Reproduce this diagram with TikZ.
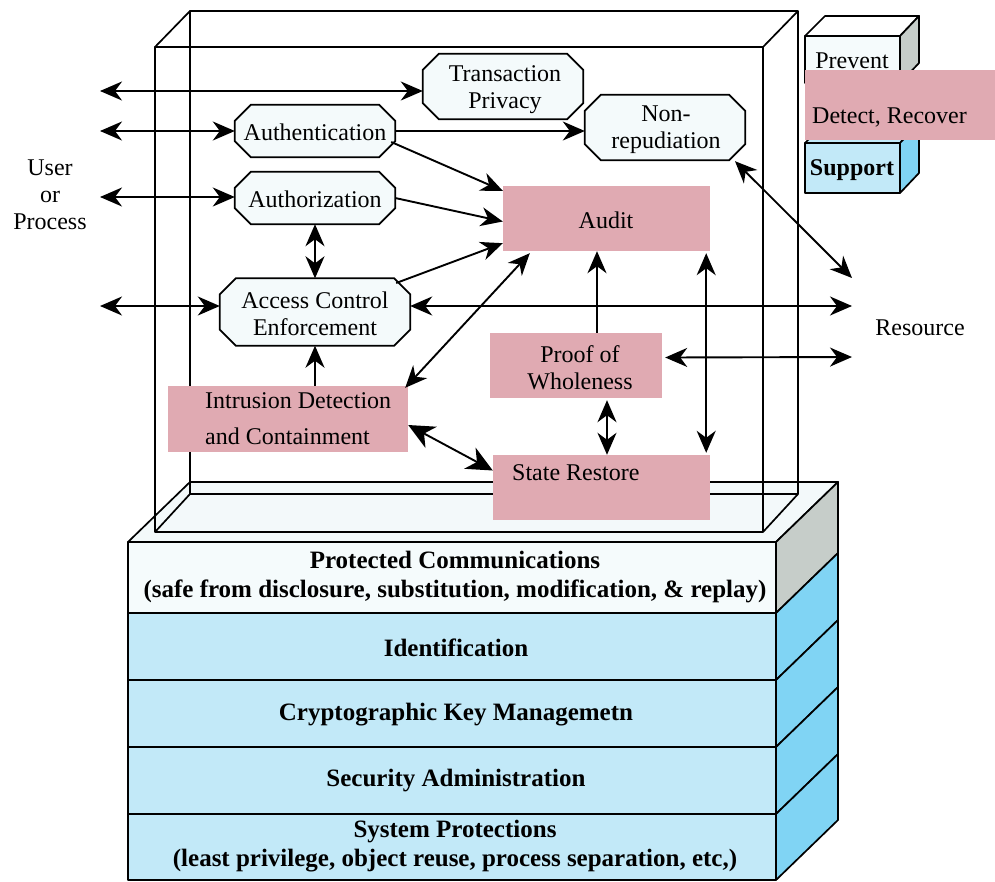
\documentclass[tikz,border=0pt]{standalone}
\usepackage{fontspec}
\setmainfont{Liberation Serif}
\usetikzlibrary{arrows.meta,calc}
\definecolor{octfill}{HTML}{F4FAFB}
\definecolor{pinkfill}{HTML}{E0AAB2}
\definecolor{slabtop}{HTML}{F3F9FA}
\definecolor{lightfront}{HTML}{F5FBFC}
\definecolor{cyanfront}{HTML}{C2E9F8}
\definecolor{cyanside}{HTML}{80D4F4}
\definecolor{greyside}{HTML}{C6CDC9}
\newcommand\octshape[1]{%
  \filldraw[octline] ($(#1.north west)+(16,0)$) -- ($(#1.north east)+(-16,0)$)
    -- ($(#1.north east)+(0,16)$) -- ($(#1.south east)+(0,-16)$)
    -- ($(#1.south east)+(-16,0)$) -- ($(#1.south west)+(16,0)$)
    -- ($(#1.south west)+(0,-16)$) -- ($(#1.north west)+(0,16)$) -- cycle;}
\begin{document}
\begin{tikzpicture}[x=1pt,y=-1pt,
  every node/.style={inner sep=0pt},
  txt/.style={font=\fontsize{24}{27}\selectfont, align=center},
  btxt/.style={font=\fontsize{25}{29}\selectfont\bfseries, align=center},
  octbox/.style={rectangle},
  octline/.style={line width=1.7pt, fill=octfill, line join=miter},
  pinkbox/.style={rectangle, fill=pinkfill},
  edge3d/.style={line width=1.7pt, line join=round},
  tipA/.tip={Stealth[length=22pt,width=19pt,inset=7pt]},
  tipB/.tip={Stealth[length=26pt,width=24pt,inset=8pt]},
  conn/.style={line width=1.9pt},
  both/.style={conn, tipA-tipA},
  one/.style={conn, -tipA}]
\useasboundingbox (0,0) rectangle (995,881);

% ---------- base slab ----------
\filldraw[edge3d, fill=slabtop] (128,542) -- (190,482) -- (838,482) -- (776,542) -- cycle;
\filldraw[edge3d, fill=lightfront] (128,542) rectangle (776,613);
\filldraw[edge3d, fill=cyanfront] (128,613) rectangle (776,680);
\filldraw[edge3d, fill=cyanfront] (128,680) rectangle (776,747);
\filldraw[edge3d, fill=cyanfront] (128,747) rectangle (776,814);
\filldraw[edge3d, fill=cyanfront] (128,814) rectangle (776,880);
\filldraw[edge3d, fill=greyside] (776,542) -- (838,482) -- (838,553) -- (776,613) -- cycle;
\filldraw[edge3d, fill=cyanside] (776,613) -- (838,553) -- (838,620) -- (776,680) -- cycle;
\filldraw[edge3d, fill=cyanside] (776,680) -- (838,620) -- (838,687) -- (776,747) -- cycle;
\filldraw[edge3d, fill=cyanside] (776,747) -- (838,687) -- (838,754) -- (776,814) -- cycle;
\filldraw[edge3d, fill=cyanside] (776,814) -- (838,754) -- (838,820) -- (776,880) -- cycle;

\node[btxt] (pc) at (455,577) {Protected Communications\\(safe from disclosure, substitution, modification, \& replay)};
\node[btxt] (idn) at (456,648) {Identification};
\node[btxt] (ckm) at (456,715) {Cryptographic Key Managemetn};
\node[btxt] (sad) at (456,781) {Security Administration};
\node[btxt] (sp) at (455,846) {System Protections\\(least privilege, object reuse, process separation, etc,)};

% ---------- transparent frame ----------
\draw[edge3d] (190,11) -- (798,11) -- (798,494) -- (190,494) -- cycle;
\draw[edge3d] (155,47) rectangle (763,532);
\draw[edge3d] (155,47) -- (190,11);
\draw[edge3d] (763,47) -- (798,11);
\draw[edge3d] (763,532) -- (798,494);
\draw[edge3d] (155,532) -- (190,494);

% ---------- legend ----------
\filldraw[edge3d, fill=white] (805,36) -- (825,16) -- (919,16) -- (900,36) -- cycle;
\filldraw[edge3d, fill=greyside] (900,36) -- (919,16) -- (919,63) -- (900,83) -- cycle;
\filldraw[edge3d, fill=lightfront] (805,36) rectangle (900,83);
\filldraw[edge3d, fill=cyanfront] (805,143) -- (825,123) -- (919,123) -- (900,143) -- cycle;
\filldraw[edge3d, fill=cyanside] (900,143) -- (919,123) -- (919,173) -- (900,193) -- cycle;
\filldraw[edge3d, fill=cyanfront] (805,143) rectangle (900,193);
\fill[pinkfill] (805,70) rectangle (995,140);
\node[txt] (prev) at (852,61) {Prevent};
\node[txt, anchor=west] (detrec) at (812,117) {Detect, Recover};
\node[btxt, font=\fontsize{24}{27}\selectfont\bfseries] (supp) at (852,170) {Support};

% ---------- side labels ----------
\node[txt] (user) at (50,195) {User\\or\\Process};
\node[txt] (res) at (920,328) {Resource};
\coordinate (U1) at (100,91);
\coordinate (U2) at (100,131);
\coordinate (U3) at (100,197);
\coordinate (U4) at (100,306);
\coordinate (R0) at (852,278);
\coordinate (R1) at (852,306);
\coordinate (R2) at (852,357);

% ---------- octagon nodes ----------
\node[octbox, minimum width=160pt, minimum height=65pt] (TP) at (503,86.5) {};
\octshape{TP}
\node[txt] (TPtxt) at (505,90) {Transaction\\Privacy};
\node[octbox, minimum width=160pt, minimum height=52pt] (AuthN) at (315,131) {};
\octshape{AuthN}
\node[txt] (AuthNtxt) at (315,132) {Authentication};
\node[octbox, minimum width=160pt, minimum height=52pt] (AuthZ) at (315,198) {};
\octshape{AuthZ}
\node[txt] (AuthZtxt) at (315,199) {Authorization};
\node[octbox, minimum width=160pt, minimum height=65pt] (NonRep) at (665,127.5) {};
\octshape{NonRep}
\node[txt] (NonReptxt) at (666,130) {Non-\\repudiation};
\node[octbox, minimum width=190pt, minimum height=67pt] (ACE) at (315,312) {};
\octshape{ACE}
\node[txt] (ACEtxt) at (315,314) {Access Control\\Enforcement};

% ---------- pink nodes ----------
\node[pinkbox, minimum width=207pt, minimum height=65pt] (Audit) at (606.5,218.5) {};
\node[txt] (Audittxt) at (606,220) {Audit};
\node[pinkbox, minimum width=240pt, minimum height=66pt] (ID) at (288,419) {};
\node[txt, anchor=west, align=left] (IDtxt) at (205,419) {Intrusion Detection\\[9pt]and Containment};
\node[pinkbox, minimum width=172pt, minimum height=65pt] (PoW) at (576,365.5) {};
\node[txt] (PoWtxt) at (580,368) {Proof of\\Wholeness};
\node[pinkbox, minimum width=217pt, minimum height=65pt] (SR) at (601.5,487.5) {};
\node[txt, anchor=west] (SRtxt) at (512,473) {State Restore};

\coordinate (pA) at ($(PoW.north)+(21,0)$);
\coordinate (pB) at ($(PoW.south)+(31,2)$);

% ---------- connectors ----------
\draw[both] (U1) -- (U1 -| TP.west);
\draw[both] (U2) -- (AuthN.west);
\draw[both] (U3) -- (U3 -| AuthZ.west);
\draw[both] (U4) -- (U4 -| ACE.west);
\draw[one] (AuthN.east) -- (AuthN.east -| NonRep.west);
\draw[one] ($(AuthN.east)+(-4,11)$) -- ($(Audit.north west)+(0,5)$);
\draw[one] (AuthZ.east) -- ($(Audit.west)+(0,3)$);
\draw[one] ($(ACE.east)+(-14,-29)$) -- ($(Audit.south west)+(0,-8)$);
\draw[both] (AuthZ.south) -- (ACE.north);
\draw[one] (ACE.south |- ID.north) -- (ACE.south);
\draw[both] ($(Audit.south west)+(27,2)$) -- ($(ID.north east)+(-3,2)$);
\draw[one] (pA) -- (pA |- Audit.south);
\draw[both] ($(Audit.south east)+(-4,2)$) -- ($(SR.north east)+(-4,-2)$);
\draw[both] (pB) -- (pB |- SR.north);
\draw[both] ($(PoW.east)+(3,-8)$) -- (R2);
\draw[both] (R1 -| ACE.east) -- (R1);
\draw[both] ($(NonRep.south)+(70,1)$) -- (R0);
\draw[conn, tipB-tipB] ($(ID.east)+(0,6)$) -- ($(SR.west)+(0,-17)$);
\end{tikzpicture}
\end{document}
